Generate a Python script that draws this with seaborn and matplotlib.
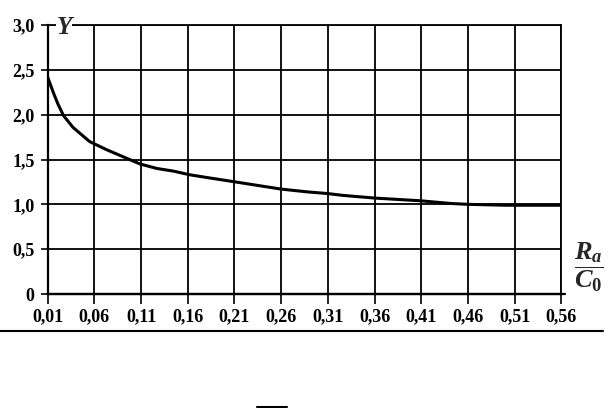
import matplotlib
matplotlib.use("Agg")
import matplotlib.pyplot as plt
import seaborn as sns
import pandas as pd
from matplotlib.lines import Line2D

sns.set_theme(style="white")
plt.rcParams["font.family"] = ["Liberation Serif", "DejaVu Serif"]
plt.rcParams["mathtext.fontset"] = "custom"
plt.rcParams["mathtext.it"] = "Liberation Serif:italic:bold"
plt.rcParams["mathtext.rm"] = "Liberation Serif:bold"
plt.rcParams["mathtext.bf"] = "Liberation Serif:bold"

# data
ratio = [0.01, 0.016, 0.021, 0.027, 0.037, 0.055, 0.073, 0.091, 0.109, 0.127,
         0.145, 0.162, 0.18, 0.211, 0.26, 0.287, 0.31, 0.326, 0.36, 0.409,
         0.441, 0.46, 0.50, 0.56]
Y = [2.42, 2.25, 2.12, 1.99, 1.86, 1.70, 1.61, 1.53, 1.45, 1.40,
     1.37, 1.33, 1.30, 1.25, 1.17, 1.14, 1.12, 1.10, 1.07, 1.04,
     1.01, 1.00, 0.99, 0.99]

x_ticks = [0.01, 0.06, 0.11, 0.16, 0.21, 0.26, 0.31, 0.36, 0.41, 0.46, 0.51, 0.56]
x_labels = ["0,01", "0,06", "0,11", "0,16", "0,21", "0,26", "0,31", "0,36",
            "0,41", "0,46", "0,51", "0,56"]
y_ticks = [0, 0.5, 1.0, 1.5, 2.0, 2.5, 3.0]
y_labels = ["0", "0,5", "1,0", "1,5", "2,0", "2,5", "3,0"]

df = pd.DataFrame({"ratio": ratio, "Y": Y})

fig = plt.figure(figsize=(6.12, 4.08), dpi=100)
ax = fig.add_axes([0.0778, 0.2794, 0.9172 - 0.0778, 0.9387 - 0.2794])

sns.lineplot(data=df, x="ratio", y="Y", ax=ax, color="black", linewidth=2.2)

ax.set_xlim(0.01, 0.56)
ax.set_ylim(0, 3.0)
ax.set_xticks(x_ticks)
ax.set_xticklabels(x_labels, fontsize=13, fontweight="bold")
ax.set_yticks(y_ticks)
ax.set_yticklabels(y_labels, fontsize=13, fontweight="bold")
ax.tick_params(axis="x", bottom=True, direction="out", length=7.5, width=1.2,
               color="black", pad=3)
ax.tick_params(axis="y", left=True, direction="out", length=5, width=1.2,
               color="black", pad=4.5)
ax.tick_params(labelcolor="black")

ax.grid(True, color="black", linewidth=1.3)
for side in ["top", "right", "left", "bottom"]:
    ax.spines[side].set_color("black")
    ax.spines[side].set_linewidth(1.3)
ax.spines["left"].set_linewidth(1.6)
ax.spines["bottom"].set_linewidth(1.6)
ax.set_xlabel("")
ax.set_ylabel("")

# bottom axis runs slightly past the last tick
ax.axhline(0, xmin=0, xmax=1.008, color="black", linewidth=1.6, clip_on=False)

# axis titles
ax.text(0.0275, 2.97, "Y", fontsize=18, fontweight="bold", fontstyle="italic",
        ha="center", va="center",
        bbox=dict(facecolor="white", edgecolor="none", pad=0.5))
fig.text(589 / 612, 1 - 267 / 408, r"$\dfrac{R_a}{C_0}$", fontsize=19,
         ha="center", va="center")

# separator line and clipped bar below the chart
fig.add_artist(Line2D([0, 0.985], [1 - 331 / 408] * 2, color="black", linewidth=1.5))
fig.add_artist(Line2D([257 / 612, 287 / 612], [1 - 407 / 408] * 2, color="black", linewidth=1.5))

fig.savefig("out.png", dpi=100)
